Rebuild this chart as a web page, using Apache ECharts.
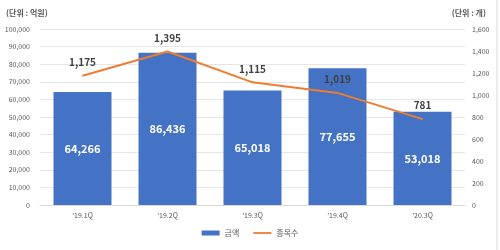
<!DOCTYPE html>
<html><head><meta charset="utf-8">
<script src="https://cdn.jsdelivr.net/npm/echarts@6/dist/echarts.min.js"></script>
<style>html,body{margin:0;padding:0;background:#fff}#c{width:500px;height:250px}</style>
</head><body><div id="c"></div>
<script>
const categories = ["'19.1Q", "'19.2Q", "'19.3Q", "'19.4Q", "'20.3Q"];
const amountValues = [64266, 86436, 65018, 77655, 53018];
const countValues = [1175, 1395, 1115, 1019, 781];
const leftTicks = [0, 100000, 10000];
const rightTicks = [0, 1600, 200];
const chart = echarts.init(document.getElementById('c'));
const fontFamily = '"Noto Sans CJK KR", "Noto Sans", sans-serif';
const fmt = v => v.toLocaleString('en-US');
chart.setOption({
  animation: false,
  textStyle: { fontFamily },
  graphic: [
    { type: 'text', left: 6, top: 9, style: { text: '(단위 : 억원)', fontSize: 8, fill: '#595959', fontFamily, fontWeight: 'bold' } },
    { type: 'text', right: 14, top: 9, style: { text: '(단위 : 개)', fontSize: 8, fill: '#595959', fontFamily, fontWeight: 'bold' } },
    { type: 'line', shape: { x1: 497, y1: 0, x2: 497, y2: 250 }, style: { stroke: '#d9d9d9', lineWidth: 1 } }
  ],
  grid: { left: 40, right: 35, top: 29, bottom: 45, containLabel: false },
  legend: {
    bottom: 8, left: 'center', itemGap: 14, itemWidth: 18, itemHeight: 5,
    textStyle: { fontSize: 8, color: '#595959', fontFamily },
    data: [
      { name: '금액', icon: 'rect' },
      { name: '종목수', icon: 'path://M0,0 L10,0 L10,1 L0,1 Z' }
    ]
  },
  xAxis: {
    type: 'category', data: categories,
    axisLine: { lineStyle: { color: '#d9d9d9' } }, axisTick: { show: false },
    axisLabel: { fontSize: 7, color: '#595959', margin: 7 }
  },
  yAxis: [
    { type: 'value', min: leftTicks[0], max: leftTicks[1], interval: leftTicks[2],
      axisLabel: { fontSize: 7, color: '#595959', formatter: v => fmt(v), margin: 10 },
      splitLine: { lineStyle: { color: '#e6e6e6' } }, axisLine: { show: false }, axisTick: { show: false } },
    { type: 'value', min: rightTicks[0], max: rightTicks[1], interval: rightTicks[2], position: 'right',
      axisLabel: { fontSize: 7, color: '#595959', formatter: v => fmt(v), margin: 7 },
      splitLine: { show: false }, axisLine: { show: false }, axisTick: { show: false } }
  ],
  series: [
    { name: '금액', type: 'bar', data: amountValues, barWidth: 58, yAxisIndex: 0,
      itemStyle: { color: '#4472C4' },
      label: { show: true, position: 'inside', color: '#fff', fontWeight: 'bold', fontSize: 11, formatter: p => fmt(p.value) } },
    { name: '종목수', type: 'line', data: countValues, yAxisIndex: 1, symbol: 'circle', symbolSize: 1, showSymbol: true,
      lineStyle: { color: '#ED7D31', width: 2 }, itemStyle: { color: '#ED7D31' },
      labelLayout: { hideOverlap: false },
      label: { show: true, position: 'top', distance: 8, color: '#404040', fontWeight: 'bold', fontSize: 10, formatter: p => fmt(p.value) } }
  ]
});
</script></body></html>
